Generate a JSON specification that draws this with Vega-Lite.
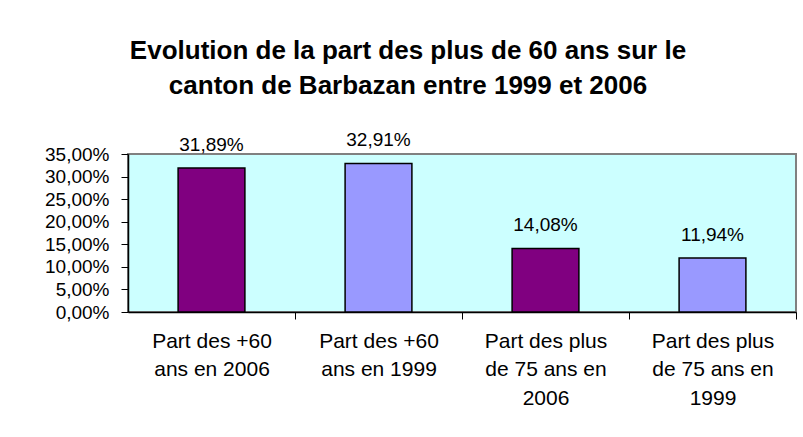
{
  "$schema": "https://vega.github.io/schema/vega-lite/v6.json",
  "width": 668,
  "height": 158,
  "autosize": {"type": "none"},
  "padding": {"left": 128, "top": 154, "right": 7, "bottom": 125},
  "background": "white",
  "title": {
    "text": ["Evolution de la part des plus de 60 ans sur le", "canton de Barbazan entre 1999 et 2006"],
    "font": "Liberation Sans",
    "fontSize": 26,
    "fontWeight": "bold",
    "lineHeight": 35,
    "anchor": "middle",
    "frame": "group",
    "dx": -54,
    "offset": 32,
    "color": "black"
  },
  "data": {
    "values": [
      {"categorie": "Part des +60 ans en 2006", "annee": "2006", "part": 0.3189},
      {"categorie": "Part des +60 ans en 1999", "annee": "1999", "part": 0.3291},
      {"categorie": "Part des plus de 75 ans en 2006", "annee": "2006", "part": 0.1408},
      {"categorie": "Part des plus de 75 ans en 1999", "annee": "1999", "part": 0.1194}
    ]
  },
  "encoding": {
    "x": {
      "field": "categorie",
      "type": "nominal",
      "sort": null,
      "scale": {"paddingInner": 0.6, "paddingOuter": 0.3},
      "axis": {
        "title": null,
        "labelAngle": 0,
        "labelExpr": "datum.value == 'Part des +60 ans en 2006' ? ['Part des +60', 'ans en 2006'] : datum.value == 'Part des +60 ans en 1999' ? ['Part des +60', 'ans en 1999'] : datum.value == 'Part des plus de 75 ans en 2006' ? ['Part des plus', 'de 75 ans en', '2006'] : ['Part des plus', 'de 75 ans en', '1999']",
        "labelFont": "Liberation Sans",
        "labelFontSize": 21,
        "labelLineHeight": 28.5,
        "labelBaseline": "top",
        "labelPadding": 11,
        "labelColor": "black",
        "labelLimit": 200,
        "tickSize": 7,
        "tickOffset": 83.5,
        "labelOffset": -83.5,
        "tickColor": "black",
        "domainColor": "black",
        "domainWidth": 1.5
      }
    },
    "y": {
      "field": "part",
      "type": "quantitative",
      "scale": {"domain": [0, 0.35], "nice": false},
      "axis": {
        "title": null,
        "format": ".2%",
        "values": [0, 0.05, 0.1, 0.15, 0.2, 0.25, 0.3, 0.35],
        "grid": false,
        "labelFont": "Liberation Sans",
        "labelFontSize": 19,
        "labelColor": "black",
        "labelPadding": 12,
        "tickSize": 7,
        "tickColor": "black",
        "domainColor": "black",
        "domainWidth": 1.5
      }
    }
  },
  "layer": [
    {
      "mark": {"type": "bar", "stroke": "black", "strokeWidth": 1.5},
      "encoding": {
        "color": {
          "field": "annee",
          "type": "nominal",
          "scale": {"domain": ["2006", "1999"], "range": ["#800080", "#9999FF"]},
          "legend": null
        }
      }
    },
    {
      "mark": {
        "type": "text",
        "font": "Liberation Sans",
        "fontSize": 19,
        "baseline": "alphabetic",
        "dy": -17,
        "color": "black"
      },
      "encoding": {
        "text": {"field": "part", "type": "quantitative", "format": ".2%"}
      }
    }
  ],
  "config": {
    "locale": {
      "number": {"decimal": ",", "thousands": " ", "grouping": [3], "currency": ["", " €"]}
    },
    "view": {"fill": "#CCFFFF", "stroke": "#808080", "strokeWidth": 2}
  }
}
